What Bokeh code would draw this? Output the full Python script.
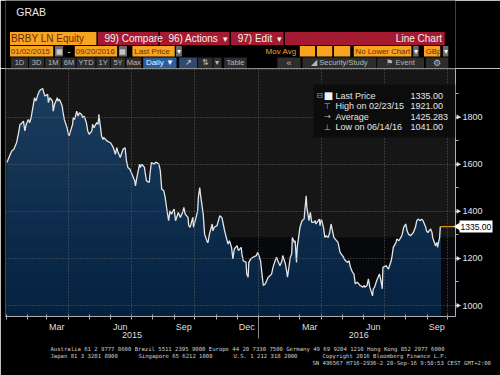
import numpy as np
import pandas as pd
from bokeh.plotting import figure
from bokeh.layouts import column
from bokeh.models import Range1d, FixedTicker, DatetimeTickFormatter, Label, BoxAnnotation, ColumnDataSource
from bokeh.core.properties import value
from bokeh.embed import file_html
from bokeh.resources import INLINE

# ---------------- data ----------------
dates = [
    "2015-01-02", "2015-01-05", "2015-01-09", "2015-01-12", "2015-01-14", "2015-01-16", "2015-01-19",
    "2015-01-21", "2015-01-23", "2015-01-26", "2015-01-28", "2015-01-30", "2015-02-02", "2015-02-04",
    "2015-02-06", "2015-02-09", "2015-02-11", "2015-02-13", "2015-02-16", "2015-02-18", "2015-02-20",
    "2015-02-23", "2015-02-24", "2015-02-26", "2015-03-02", "2015-03-03", "2015-03-05", "2015-03-09",
    "2015-03-10", "2015-03-12", "2015-03-16", "2015-03-17", "2015-03-19", "2015-03-23", "2015-03-24",
    "2015-03-26", "2015-03-30", "2015-04-01", "2015-04-02", "2015-04-07", "2015-04-08", "2015-04-10",
    "2015-04-13", "2015-04-15", "2015-04-17", "2015-04-20", "2015-04-22", "2015-04-24", "2015-04-27",
    "2015-04-29", "2015-05-01", "2015-05-05", "2015-05-06", "2015-05-08", "2015-05-12", "2015-05-14",
    "2015-05-15", "2015-05-19", "2015-05-21", "2015-05-22", "2015-05-27", "2015-06-01", "2015-06-05",
    "2015-06-08", "2015-06-10", "2015-06-12", "2015-06-15", "2015-06-19", "2015-06-22", "2015-06-24",
    "2015-06-26", "2015-06-29", "2015-07-02", "2015-07-06", "2015-07-07", "2015-07-09", "2015-07-13",
    "2015-07-14", "2015-07-16", "2015-07-20", "2015-07-21", "2015-07-23", "2015-07-27", "2015-07-28",
    "2015-07-30", "2015-08-03", "2015-08-05", "2015-08-07", "2015-08-10", "2015-08-12", "2015-08-14",
    "2015-08-17", "2015-08-19", "2015-08-21", "2015-08-24", "2015-08-26", "2015-08-28", "2015-09-01",
    "2015-09-03", "2015-09-07", "2015-09-10", "2015-09-14", "2015-09-15", "2015-09-17", "2015-09-21",
    "2015-09-22", "2015-09-24", "2015-09-28", "2015-09-29", "2015-10-05", "2015-10-06", "2015-10-08",
    "2015-10-09", "2015-10-13", "2015-10-15", "2015-10-19", "2015-10-20", "2015-10-22", "2015-10-26",
    "2015-10-27", "2015-10-29", "2015-11-02", "2015-11-04", "2015-11-06", "2015-11-09", "2015-11-11",
    "2015-11-13", "2015-11-16", "2015-11-18", "2015-11-20", "2015-11-23", "2015-11-25", "2015-11-27",
    "2015-12-01", "2015-12-03", "2015-12-07", "2015-12-08", "2015-12-10", "2015-12-14", "2015-12-15",
    "2015-12-17", "2015-12-18", "2015-12-21", "2015-12-24", "2015-12-29", "2015-12-31",
    "2016-01-04", "2016-01-06", "2016-01-08", "2016-01-11", "2016-01-13", "2016-01-15", "2016-01-18",
    "2016-01-20", "2016-01-22", "2016-01-25", "2016-01-27", "2016-01-29", "2016-02-01", "2016-02-04",
    "2016-02-05", "2016-02-09", "2016-02-11", "2016-02-12", "2016-02-16", "2016-02-18", "2016-02-19",
    "2016-02-22", "2016-02-23", "2016-02-25", "2016-02-26", "2016-03-01", "2016-03-04", "2016-03-07",
    "2016-03-08", "2016-03-10", "2016-03-11", "2016-03-14", "2016-03-16", "2016-03-18", "2016-03-21",
    "2016-03-23", "2016-03-24", "2016-03-29", "2016-03-30", "2016-04-01", "2016-04-04", "2016-04-06",
    "2016-04-08", "2016-04-11", "2016-04-13", "2016-04-15", "2016-04-19", "2016-04-21", "2016-04-25",
    "2016-04-26", "2016-04-28", "2016-05-03", "2016-05-04", "2016-05-06", "2016-05-09", "2016-05-11",
    "2016-05-13", "2016-05-16", "2016-05-18", "2016-05-20", "2016-05-23", "2016-05-25", "2016-05-27",
    "2016-05-31", "2016-06-02", "2016-06-03", "2016-06-06", "2016-06-08", "2016-06-10", "2016-06-14",
    "2016-06-15", "2016-06-17", "2016-06-20", "2016-06-22", "2016-06-24", "2016-06-27", "2016-06-28",
    "2016-06-29", "2016-07-04", "2016-07-05", "2016-07-07", "2016-07-11", "2016-07-12", "2016-07-14",
    "2016-07-18", "2016-07-19", "2016-07-22", "2016-07-25", "2016-07-27", "2016-07-29", "2016-08-01",
    "2016-08-03", "2016-08-05", "2016-08-08", "2016-08-10", "2016-08-12", "2016-08-15", "2016-08-17",
    "2016-08-19", "2016-08-22", "2016-08-24", "2016-08-26", "2016-08-30", "2016-08-31", "2016-09-02",
    "2016-09-06", "2016-09-08", "2016-09-09", "2016-09-13", "2016-09-15", "2016-09-16", "2016-09-19",
    "2016-09-20",
]
prices = [
    1607, 1628, 1656, 1663, 1677, 1691, 1734,
    1769, 1772, 1783, 1741, 1769, 1790, 1776,
    1797, 1847, 1882, 1868, 1896, 1910, 1917,
    1921, 1907, 1889, 1896, 1861, 1882, 1868,
    1825, 1854, 1882, 1868, 1875, 1847, 1825,
    1790, 1755, 1727, 1720, 1769, 1797, 1790,
    1825, 1804, 1818, 1811, 1797, 1804, 1776,
    1741, 1727, 1741, 1769, 1755, 1776, 1769,
    1811, 1720, 1705, 1713, 1698, 1691, 1670,
    1642, 1670, 1649, 1628, 1663, 1670, 1614,
    1586, 1578, 1557, 1529, 1508, 1543, 1600,
    1586, 1600, 1586, 1564, 1529, 1522, 1557,
    1607, 1600, 1607, 1607, 1600, 1571, 1494,
    1487, 1459, 1416, 1360, 1402, 1388, 1409,
    1360, 1395, 1374, 1402, 1416, 1388, 1374,
    1339, 1332, 1374, 1332, 1402, 1459, 1501,
    1473, 1388, 1303, 1268, 1268, 1303, 1346,
    1317, 1332, 1339, 1360, 1381, 1374, 1346,
    1317, 1282, 1261, 1275, 1247, 1198, 1240,
    1254, 1233, 1247, 1219, 1190, 1183, 1134,
    1120, 1183, 1198, 1205, 1212, 1226,
    1190, 1134, 1085, 1092, 1106, 1120, 1127,
    1134, 1162, 1190, 1205, 1190, 1169, 1190,
    1212, 1176, 1141, 1120, 1205, 1219, 1289,
    1268, 1275, 1183, 1247, 1332, 1360, 1367,
    1402, 1466, 1416, 1360, 1395, 1353, 1353,
    1360, 1346, 1367, 1339, 1367, 1332, 1289,
    1296, 1289, 1310, 1346, 1289, 1282, 1268,
    1254, 1226, 1205, 1198, 1190, 1183, 1190,
    1162, 1141, 1134, 1092, 1099, 1092, 1085,
    1078, 1085, 1078, 1085, 1113, 1078, 1041,
    1071, 1078, 1106, 1120, 1134, 1092, 1071,
    1162, 1169, 1162, 1155, 1190, 1205, 1247,
    1268, 1282, 1275, 1289, 1303, 1332, 1346,
    1317, 1303, 1296, 1303, 1310, 1332, 1360,
    1367, 1360, 1367, 1360, 1332, 1317, 1310,
    1325, 1310, 1289, 1254, 1268, 1247, 1289,
    1335,
]

ticker_name = "BRBY LN Equity"
range_start_text = "01/02/2015"
range_end_text = "09/20/2016"
legend_rows = [("Last Price", "1335.00"), ("High on 02/23/15", "1921.00"),
               ("Average", "1425.283"), ("Low on 06/14/16", "1041.00")]
last_price_text = "1335.00"

y_ticks = [1000, 1200, 1400, 1600, 1800]
y_minor_ticks = [1100, 1300, 1500, 1700, 1900]
y_grid_ticks = [1000, 1200, 1400, 1600, 1800, 2000]
month_label_dates = ["2015-03-15", "2015-06-15", "2015-09-15", "2015-12-15",
                     "2016-03-15", "2016-06-15", "2016-09-15"]
month_labels = ["Mar", "Jun", "Sep", "Dec", "Mar", "Jun", "Sep"]
year_label_dates = ["2015-07-02", "2016-05-25"]
year_labels = ["2015", "2016"]
year_break_date = "2016-01-01"

footer_lines = [
    (50, 348, "Australia 61 2 9777 8600 Brazil 5511 2395 9000 Europe 44 20 7330 7500 Germany 49 69 9204 1210 Hong Kong 852 2977 6000"),
    (50, 355, "Japan 81 3 3201 8900"),
    (138, 355, "Singapore 65 6212 1000"),
    (233, 355, "U.S. 1 212 318 2000"),
    (322, 355, "Copyright 2016 Bloomberg Finance L.P."),
    (312, 362, "SN 496567 H716-2936-2 20-Sep-16  9:50:53 CEST  GMT+2:00"),
]

FONT = "Liberation Sans"


def ms(d):
    return pd.Timestamp(d).value / 1e6


x = pd.to_datetime(dates)
y = np.array(prices, dtype=float)

X0, X1 = pd.Timestamp("2014-12-31"), pd.Timestamp("2016-10-12")
Y0, Y1 = 953.4, 2006.0

# page layout (pixels): header 0-68, plot frame 68-316 (x 5-455), below: labels and footer to 375
FR_L, FR_R, FR_T, FR_B = 5, 455, 68, 316


def yref(ry):  # page row -> price units (for out-of-frame overlay texts)
    return Y0 - (ry - FR_B) * (Y1 - Y0) / (FR_B - FR_T)


def xref(rx):  # page column -> date
    return X0 + (X1 - X0) * ((rx - FR_L) / (FR_R - FR_L))


# ---------------- header ----------------
h = figure(width=500, height=68, x_range=Range1d(0, 500), y_range=Range1d(68, 0),
           output_backend="svg", toolbar_location=None, min_border=0,
           x_axis_location=None, y_axis_location=None, title=None,
           background_fill_color="#000000", border_fill_color="#000000", outline_line_color=None)
h.xgrid.visible = False
h.ygrid.visible = False

OR, RED, GR, DD = "#f7a420", "#a51a30", "#2d2d2d", "#6b6b6b"
boxes = [
    (5, 101, 31.5, 44.5, OR), (102.5, 170, 31.5, 44.5, RED), (171.5, 249, 31.5, 44.5, RED),
    (250.5, 309, 31.5, 44.5, RED), (310.5, 488, 31.5, 44.5, RED),
    (5, 53, 45.5, 56, OR), (55, 64, 45.5, 56, DD), (77, 124, 45.5, 56, OR), (126, 135, 45.5, 56, DD),
    (141, 188, 45.5, 56, OR), (189.5, 196, 45.5, 56, DD), (327, 344, 45.5, 56, OR),
    (346, 363, 45.5, 56, OR), (365, 383, 45.5, 56, OR), (387, 451, 45.5, 56, OR),
    (453, 459, 45.5, 56, DD), (465, 483, 45.5, 56, OR), (486, 492, 45.5, 56, DD),
    (6, 25, 57, 67.5, GR), (26, 43, 57, 67.5, GR), (44, 62, 57, 67.5, GR), (63, 78, 57, 67.5, GR),
    (79, 100, 57, 67.5, GR), (101, 116, 57, 67.5, GR), (117, 133, 57, 67.5, GR),
    (134, 151, 57, 67.5, GR), (153, 190, 57, 67.5, "#2b5c9e"), (193, 213, 57, 67.5, "#2f4a6c"),
    (214, 230, 57, 67.5, GR), (231, 240, 57, 67.5, GR), (243, 268, 57, 67.5, GR),
    (302, 328, 57, 67.5, GR), (330, 412, 57, 67.5, GR), (413, 465, 57, 67.5, GR),
    (467, 492, 57, 67.5, GR),
]
bsrc = ColumnDataSource(dict(l=[b[0] for b in boxes], r=[b[1] for b in boxes],
                             t=[b[2] for b in boxes], b=[b[3] for b in boxes],
                             c=[b[4] for b in boxes]))
h.quad(left="l", right="r", top="t", bottom="b", fill_color="c", line_color=None, source=bsrc)

DK, WH, BT = "#6e2a00", "#f2f2f2", "#b8b8b8"
texts = [
    (12, 11.5, "GRAB", "#e8e8e8", "10.5px", "left"),
    (6, 38.2, ticker_name, DK, "10px", "left"),
    (110, 38.2, "99) Compare", WH, "10px", "left"),
    (181, 38.2, "96) Actions", WH, "10px", "left"),
    (244.5, 38.2, "▾", WH, "9px", "center"),
    (258, 38.2, "97) Edit", WH, "10px", "left"),
    (304.5, 38.2, "▾", WH, "9px", "center"),
    (485, 38.2, "Line Chart", WH, "10px", "right"),
    (6, 51, range_start_text, DK, "7.8px", "left"),
    (59.5, 51, "▦", "#e0e0e0", "7px", "center"),
    (70.5, 51, "-", WH, "9px", "center"),
    (78, 51, range_end_text, DK, "7.8px", "left"),
    (130.5, 51, "▦", "#e0e0e0", "7px", "center"),
    (143, 51, "Last Price", DK, "8px", "left"),
    (192.7, 51, "▾", WH, "8px", "center"),
    (289, 51, "Mov Avg", "#f0a030", "8px", "left"),
    (389, 51, "No Lower Chart", DK, "7.8px", "left"),
    (456, 51, "▾", WH, "8px", "center"),
    (467, 51, "GBp", DK, "7.8px", "left"),
    (489, 51, "▾", WH, "8px", "center"),
    (15.5, 62.3, "1D", BT, "7.5px", "center"),
    (34.5, 62.3, "3D", BT, "7.5px", "center"),
    (53, 62.3, "1M", BT, "7.5px", "center"),
    (70.5, 62.3, "6M", BT, "7.5px", "center"),
    (89.5, 62.3, "YTD", BT, "7.5px", "center"),
    (108.5, 62.3, "1Y", BT, "7.5px", "center"),
    (125, 62.3, "5Y", BT, "7.5px", "center"),
    (142.5, 62.3, "Max", BT, "7.5px", "center"),
    (171.5, 62.3, "Daily ▼", WH, "8px", "center"),
    (203, 62.3, "↗", "#cfe0f5", "8px", "center"),
    (222, 62.3, "⇅", BT, "8px", "center"),
    (235.5, 62.3, "▾", BT, "8px", "center"),
    (255.5, 62.3, "Table", BT, "7.5px", "center"),
    (315, 62.3, "«", BT, "9px", "center"),
    (371, 62.3, "◢ Security/Study", BT, "7.5px", "center"),
    (439, 62.3, "⚑ Event", BT, "7.5px", "center"),
    (479.5, 62.3, "⚙", BT, "8.5px", "center"),
]
tsrc = ColumnDataSource(dict(x=[t[0] for t in texts], y=[t[1] for t in texts],
                             text=[t[2] for t in texts], color=[t[3] for t in texts],
                             size=[t[4] for t in texts], align=[t[5] for t in texts]))
h.text(x="x", y="y", text="text", text_color="color", text_font_size="size",
       text_align="align", text_baseline="middle", text_font=value(FONT), source=tsrc)

# ---------------- main chart ----------------
p = figure(width=500, height=307, x_axis_type="datetime", y_axis_location="right",
           x_range=Range1d(X0, X1), y_range=Range1d(Y0, Y1), title=None,
           output_backend="svg", toolbar_location=None,
           min_border_left=FR_L, min_border_right=500 - FR_R, min_border_top=0, min_border_bottom=59,
           background_fill_color="#161616", border_fill_color="#000000", outline_line_color=None)

# darker panel behind the lower right part of the plot
p.quad(left=[pd.Timestamp("2015-11-21")], right=[X1], bottom=[Y0], top=[1290],
       fill_color="#07080b", line_color=None)

# vertical gradient fill under the price line
levels = np.linspace(Y1, 1000, 15)
top_rgb = np.array([29, 62, 96])
bot_rgb = np.array([4, 33, 64])
for i, lev in enumerate(levels):
    fr = i / (len(levels) - 1)
    rgb = (top_rgb * (1 - fr) + bot_rgb * fr).round().astype(int)
    col = "#%02x%02x%02x" % tuple(rgb)
    p.varea(x=x, y1=Y0, y2=np.minimum(y, lev), fill_color=col)

p.line(x, y, line_color="#e4e4e4", line_width=1.3)
p.segment(x0=[x[-1]], y0=[y[-1]], x1=[X1], y1=[y[-1]], line_color="#e0901e", line_width=1.2)

# grid
quarter_starts = pd.date_range("2015-04-01", "2016-10-01", freq="QS")
p.xgrid.ticker = FixedTicker(ticks=[ms(d) for d in quarter_starts])
p.ygrid.ticker = FixedTicker(ticks=y_grid_ticks)
for g in (p.xgrid, p.ygrid):
    g.grid_line_color = "#5e5e5e"
    g.grid_line_dash = "1 2"
    g.grid_line_width = 1
    g.level = "guide"

# x axis
month_starts = pd.date_range("2015-01-01", "2016-10-01", freq="MS")
xa = p.xaxis[0]
xa.ticker = FixedTicker(ticks=[ms(d) for d in month_label_dates],
                        minor_ticks=[ms(d) for d in month_starts])
fmt = "%b"
xa.formatter = DatetimeTickFormatter(milliseconds=fmt, seconds=fmt, minsec=fmt, minutes=fmt,
                                     hourmin=fmt, hours=fmt, days=fmt, months=fmt, years=fmt)
xa.major_label_overrides = {ms(d): lab for d, lab in zip(month_label_dates, month_labels)}
xa.major_tick_line_color = None
xa.major_tick_in = 0
xa.major_tick_out = 0
xa.minor_tick_in = 2
xa.minor_tick_out = 3
xa.minor_tick_line_color = "#b0b0b0"
xa.axis_line_color = "#b0b0b0"
xa.major_label_standoff = 2
xa.major_label_text_color = "#dedede"
xa.major_label_text_font = FONT
xa.major_label_text_font_size = "9px"

# y axis (right)
ya = p.yaxis[0]
ya.ticker = FixedTicker(ticks=y_ticks, minor_ticks=y_minor_ticks)
ya.axis_line_color = "#b0b0b0"
ya.major_tick_in = 0
ya.major_tick_out = 5
ya.major_tick_line_width = 1
ya.major_tick_line_color = "#e0e0e0"
ya.minor_tick_in = 0
ya.minor_tick_out = 3
ya.minor_tick_line_color = "#b0b0b0"
ya.major_label_standoff = 2
ya.major_label_text_color = "#e2e2e2"
ya.major_label_text_font = FONT
ya.major_label_text_font_size = "9px"

# small arrow heads on the major y ticks (Bloomberg style)
p.scatter(x=[xref(457.5)] * len(y_ticks), y=y_ticks, marker="triangle", angle=-np.pi / 2, size=5,
          fill_color="#e0e0e0", line_color=None, level="overlay")


def sx(rx):
    return rx - FR_L


def sy(ry):
    return FR_B - ry


# legend panel
p.add_layout(BoxAnnotation(left=sx(313), right=sx(455), top=sy(84), bottom=sy(137),
                           left_units="screen", right_units="screen",
                           top_units="screen", bottom_units="screen",
                           fill_color="#0c0c0c", fill_alpha=1.0, line_color=None, level="annotation"))
row_y = [95, 105.5, 116, 126.5]
icons = ["■", "⊤", "→", "⊥"]
icon_x = [328, 327, 327, 327]
for (lab, val), ry, ic, ix in zip(legend_rows, row_y, icons, icon_x):
    p.add_layout(Label(x=sx(ix), y=sy(ry), x_units="screen", y_units="screen", text=ic,
                       text_align="center", text_baseline="middle",
                       text_color="#f0f0f0" if ic == "■" else "#bdbdbd",
                       text_font="DejaVu Sans", text_font_size="10px" if ic == "■" else "8px",
                       level="overlay"))
    p.add_layout(Label(x=sx(335), y=sy(ry), x_units="screen", y_units="screen", text=lab,
                       text_baseline="middle", text_color="#e6e6e6", text_font=FONT,
                       text_font_size="9px", level="overlay"))
    p.add_layout(Label(x=sx(410), y=sy(ry), x_units="screen", y_units="screen", text=val,
                       text_baseline="middle", text_color="#e6e6e6", text_font=FONT,
                       text_font_size="9px", level="overlay"))
p.add_layout(Label(x=sx(319), y=sy(95), x_units="screen", y_units="screen", text="⊟",
                   text_align="center", text_baseline="middle", text_color="#9a9a9a",
                   text_font="DejaVu Sans", text_font_size="8px", level="overlay"))

# last price tag on the axis (overlay level, outside the frame)
tag_half = 6 * (Y1 - Y0) / (FR_B - FR_T)
p.quad(left=[xref(459)], right=[xref(492)], bottom=[y[-1] - tag_half], top=[y[-1] + tag_half],
       fill_color="#ffffff", line_color=None, level="overlay")
p.scatter(x=[xref(458)], y=[y[-1]], marker="triangle", angle=np.pi / 2, size=9,
          fill_color="#ffffff", line_color=None, level="overlay")
p.text(x=[xref(460)], y=[y[-1]], text=[last_price_text], text_color="#000000",
       text_font=value(FONT), text_font_size="8.5px", text_baseline="middle", level="overlay")

# year labels and separator (overlay level, below the frame)
p.text(x=pd.to_datetime(year_label_dates), y=[yref(334)] * len(year_labels), text=year_labels,
       text_color="#dedede", text_font=value(FONT), text_font_size="9px",
       text_align="center", text_baseline="middle", level="overlay")
p.segment(x0=[pd.Timestamp(year_break_date)], x1=[pd.Timestamp(year_break_date)],
          y0=[yref(318)], y1=[yref(338)], line_color="#8a8a8a", line_width=1, level="overlay")

# footer lines (overlay level, below the frame)
p.text(x=[xref(t[0]) for t in footer_lines], y=[yref(t[1]) for t in footer_lines],
       text=[t[2] for t in footer_lines], text_color="#cfcfcf",
       text_font=value("DejaVu Sans Mono"), text_font_size="5.6px",
       text_baseline="middle", level="overlay")

layout = column(h, p, spacing=0)
html = file_html(layout, INLINE)
html = html.replace("<body>", '<body style="background-color:#000000;">', 1)
open("out.html", "w").write(html)
